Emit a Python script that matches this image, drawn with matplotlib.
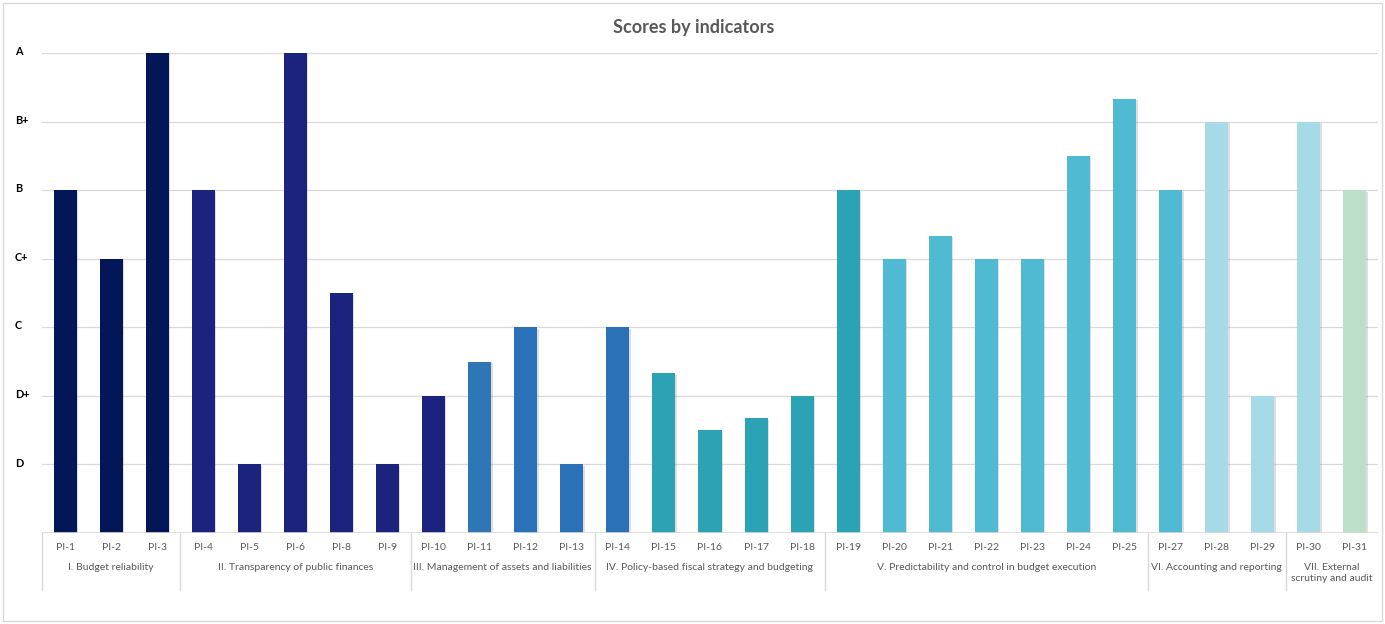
import matplotlib.pyplot as plt
import matplotlib.transforms as mtransforms
import matplotlib.patheffects as pe
from matplotlib.patches import Rectangle

plt.rcParams['font.family'] = ['Lato', 'DejaVu Sans']

# Indicator labels and scores (D=1, D+=2, C=3, C+=4, B=5, B+=6, A=7)
indicators = ["PI-1", "PI-2", "PI-3",
              "PI-4", "PI-5", "PI-6", "PI-8", "PI-9",
              "PI-10", "PI-11", "PI-12", "PI-13",
              "PI-14", "PI-15", "PI-16", "PI-17", "PI-18",
              "PI-19", "PI-20", "PI-21", "PI-22", "PI-23", "PI-24", "PI-25",
              "PI-27", "PI-28", "PI-29",
              "PI-30", "PI-31"]
scores = [5, 4, 7,
          5, 1, 7, 3.5, 1,
          2, 2.5, 3, 1,
          3, 2.33, 1.5, 1.67, 2,
          5, 4, 4.33, 4, 4, 5.5, 6.33,
          5, 6, 2,
          6, 5]
pillars = ["I. Budget reliability",
           "II. Transparency of public finances",
           "III. Management of assets and liabilities",
           "IV. Policy-based fiscal strategy and budgeting",
           "V. Predictability and control in budget execution",
           "VI. Accounting and reporting",
           "VII. External\nscrutiny and audit"]
pillar_sizes = [3, 5, 4, 5, 7, 3, 2]
grade_labels = ["D", "D+", "C", "C+", "B", "B+", "A"]

bar_colors = (["#031758"] * 3 + ["#1b237e"] * 6 + ["#2f77b4"] + ["#2a71b8"] * 3
              + ["#2ba3b4"] * 5 + ["#50bad3"] * 7 + ["#a6dae6"] * 3 + ["#bbdfc8"])

W, H = 1385, 624
fig = plt.figure(figsize=(W / 100, H / 100), dpi=100)
ax = fig.add_axes([42 / W, (H - 533) / H, (1378 - 42) / W, (533 - 53) / H])

x = list(range(len(indicators)))
bars = ax.bar(x, scores, width=0.5, color=bar_colors, zorder=3)
for b in bars:
    b.set_path_effects([pe.SimplePatchShadow(offset=(1, -1), alpha=0.25, shadow_rgbFace="#808080"),
                        pe.Normal()])

ax.set_xlim(-0.5, len(indicators) - 0.5)
ax.set_ylim(0, 7)
for s in ax.spines.values():
    s.set_visible(False)
ax.set_xticks([])
ax.set_yticks([])

grid_color = "#d9d9d9"
for lvl in range(1, 8):
    ax.axhline(lvl, color=grid_color, lw=0.9, zorder=1)
ax.axhline(0, color=grid_color, lw=1.2, zorder=4)

# y labels (grades)
ytrans = mtransforms.blended_transform_factory(fig.transFigure, ax.transData)
for i, g in enumerate(grade_labels):
    ax.text(15 / W, i + 1 + 0.02, g, transform=ytrans, ha="left", va="center",
            fontsize=7.8, fontweight="bold", color="black")

# x labels: indicators, pillars, separators
xtrans = mtransforms.blended_transform_factory(ax.transData, fig.transFigure)
label_color = "#595959"
for xi, lab in zip(x, indicators):
    ax.text(xi, (H - 548) / H, lab, transform=xtrans, ha="center", va="center",
            fontsize=7.5, color=label_color)

start = 0
for name, n in zip(pillars, pillar_sizes):
    mid = start + (n - 1) / 2
    ax.text(mid, (H - 563) / H, name, transform=xtrans, ha="center", va="top",
            fontsize=7.5, color=label_color, linespacing=1.35)
    ax.plot([start - 0.5, start - 0.5], [(H - 533) / H, (H - 590) / H], transform=xtrans,
            color=grid_color, lw=1, clip_on=False)
    start += n

fig.text(694 / W, (H - 27) / H, "Scores by indicators", ha="center", va="center",
         fontsize=13, fontweight="bold", color="#595959")

fig.patches.append(Rectangle((3 / W, 3 / H), (W - 6) / W, (H - 6) / H, transform=fig.transFigure,
                             fill=False, edgecolor="#d9d9d9", lw=1))

fig.savefig("out.png", dpi=100)
